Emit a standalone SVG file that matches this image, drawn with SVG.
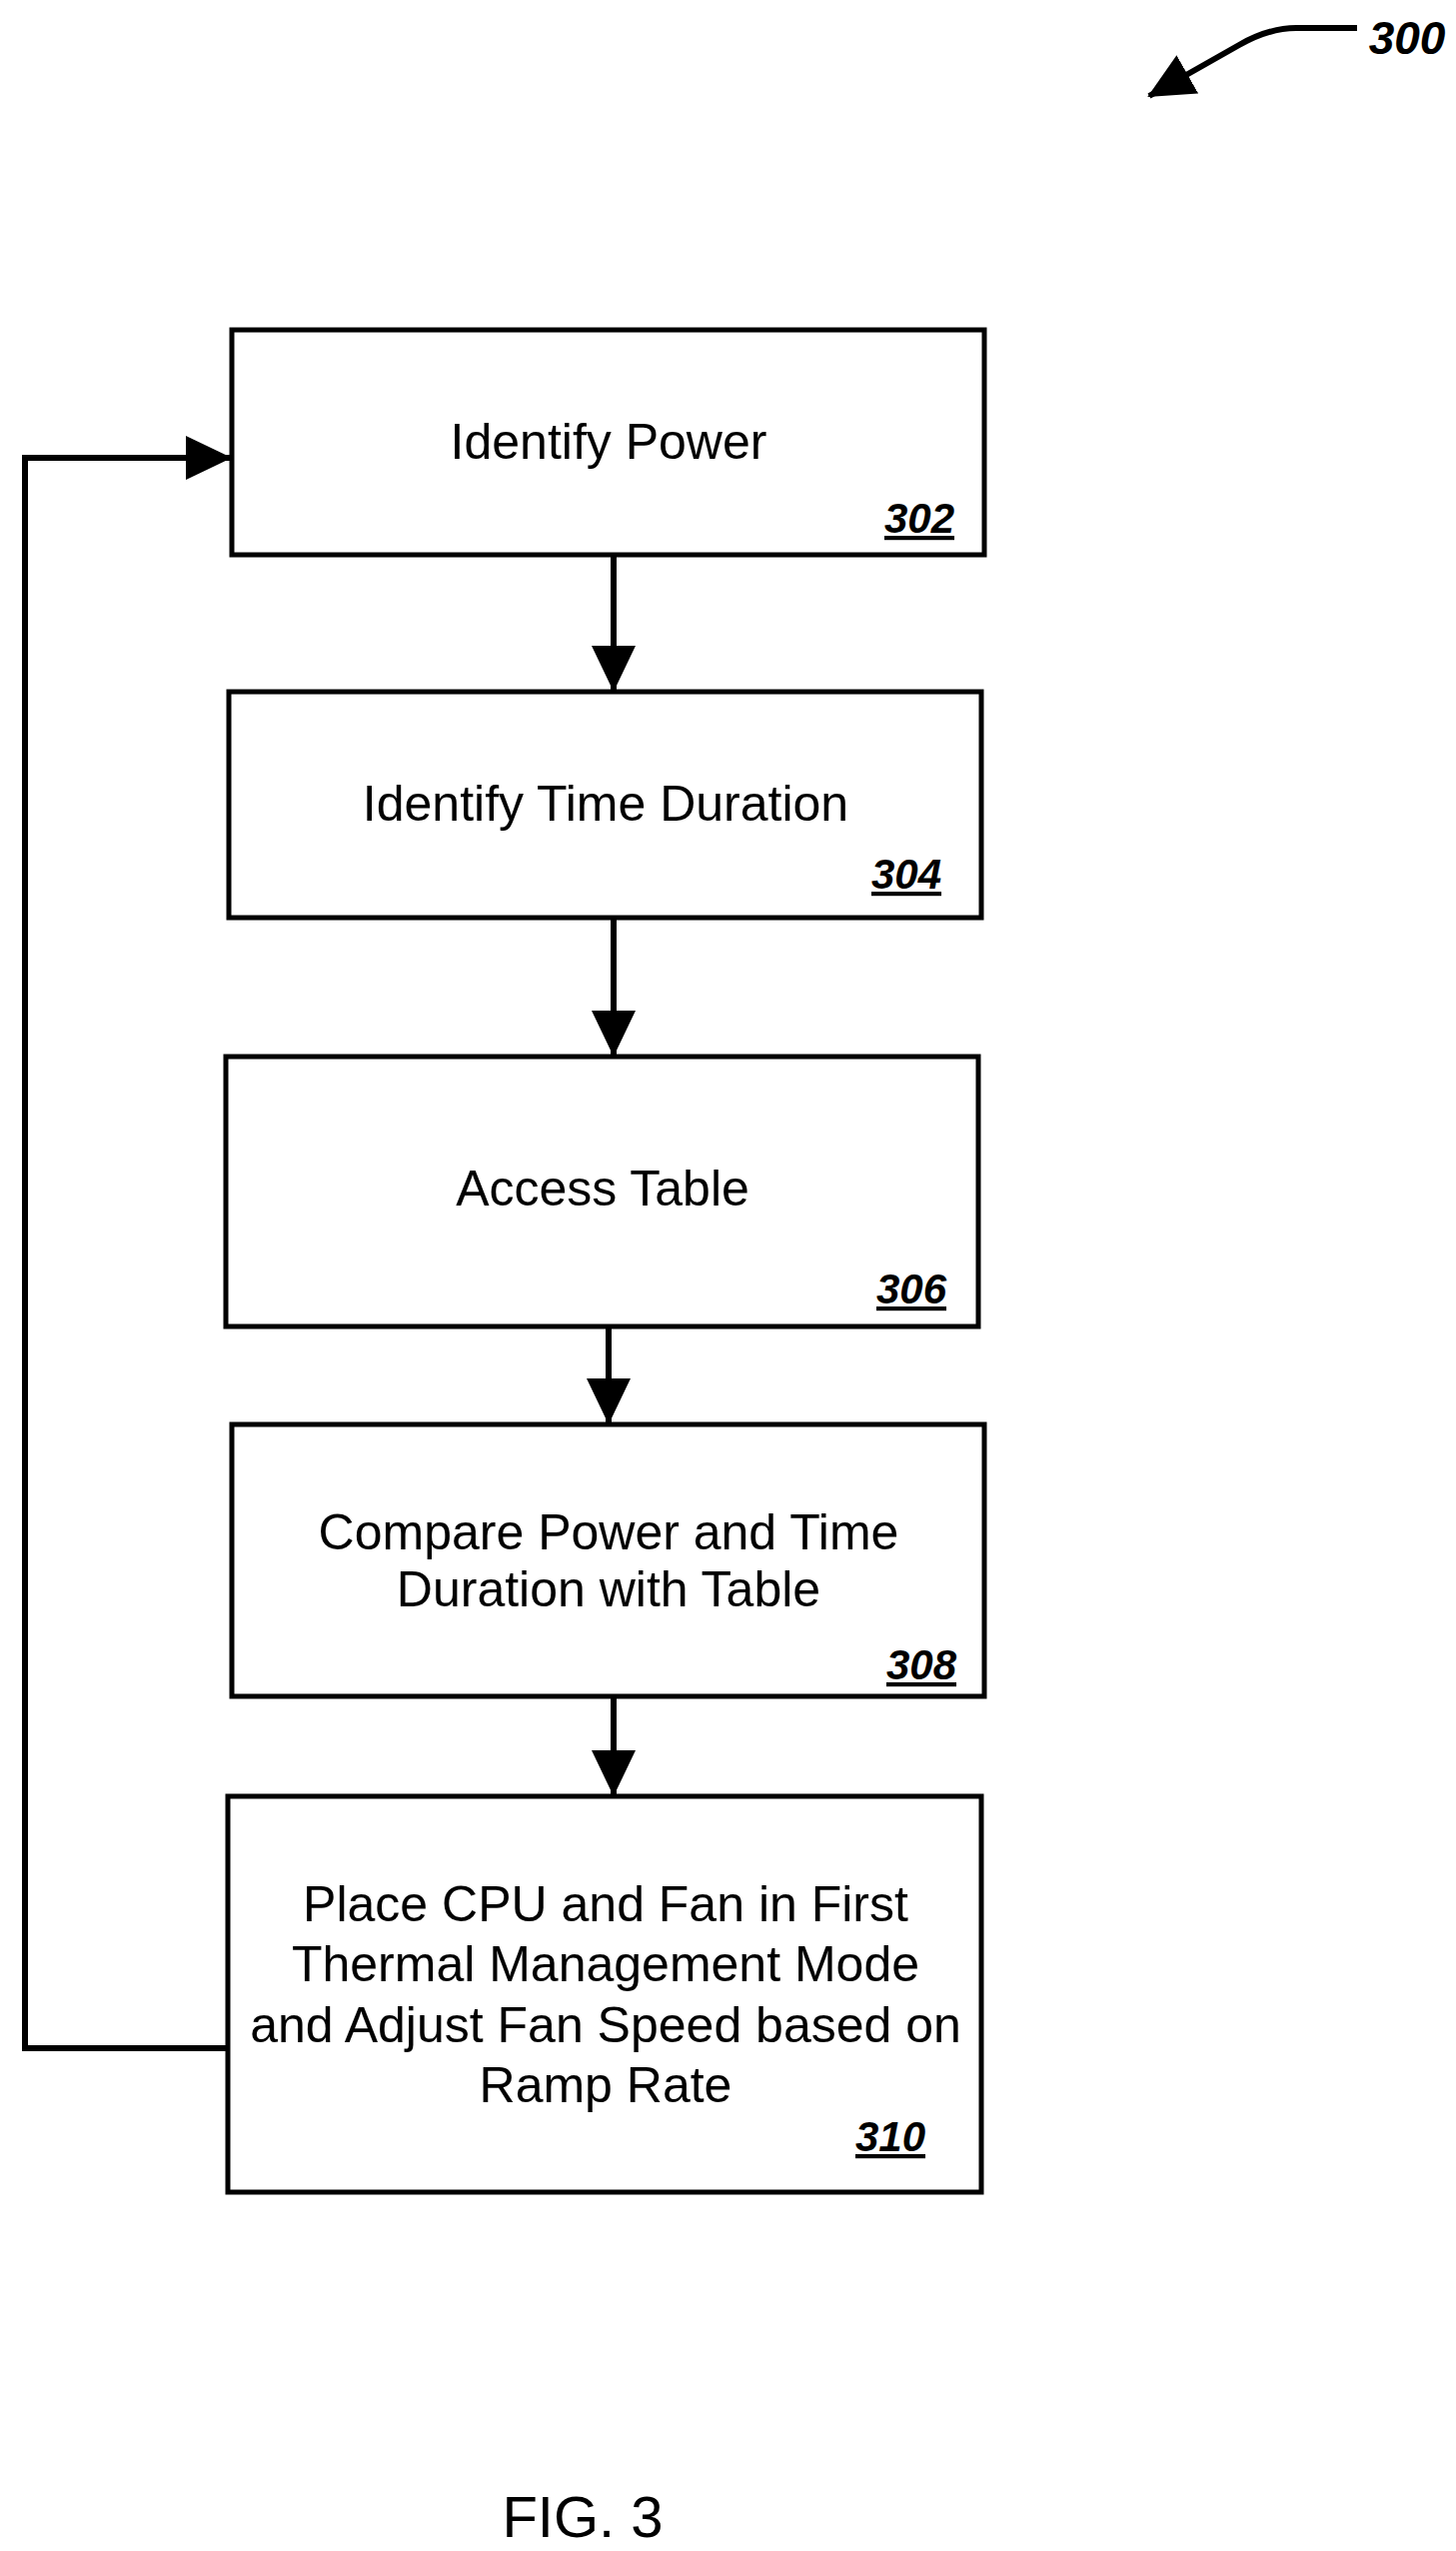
<svg xmlns="http://www.w3.org/2000/svg" width="1457" height="2552" viewBox="0 0 1457 2552">
<style>
.box{fill:#fff;stroke:#000;stroke-width:5}
.t{font-family:"Liberation Sans",Arial,sans-serif;font-size:50px;text-anchor:middle;fill:#000}
.n{font-family:"Liberation Sans",Arial,sans-serif;font-size:42px;font-weight:bold;font-style:italic;text-decoration:underline;text-anchor:middle;fill:#000}
.c{fill:none;stroke:#000;stroke-width:6}
</style>
<defs>
<marker id="a" markerUnits="userSpaceOnUse" markerWidth="50" markerHeight="50" refX="44" refY="22" orient="auto"><path d="M0,0 L46,22 L0,44 Z" fill="#000"/></marker>
</defs>
<rect width="1457" height="2552" fill="#fff"/>
<g id="connectors">
<path class="c" d="M614,555 L614,690" marker-end="url(#a)"/>
<path class="c" d="M614,918 L614,1055" marker-end="url(#a)"/>
<path class="c" d="M609,1327 L609,1423" marker-end="url(#a)"/>
<path class="c" d="M614,1697 L614,1795" marker-end="url(#a)"/>
<path class="c" d="M228,2049 L25,2049 L25,458 L230,458" marker-end="url(#a)"/>
<path class="c" d="M1358,28 L1297,28 Q1270,28 1240,45 L1150,96" marker-end="url(#a)"/>
</g>
<g id="n302"><rect class="box" x="232" y="330" width="753" height="225"/><text class="t" x="609" y="459">Identify Power</text><text class="n" x="920" y="533">302</text></g>
<g id="n304"><rect class="box" x="229" y="692" width="753" height="226"/><text class="t" x="606" y="821">Identify Time Duration</text><text class="n" x="907" y="889">304</text></g>
<g id="n306"><rect class="box" x="226" y="1057" width="753" height="270"/><text class="t" x="603" y="1206">Access Table</text><text class="n" x="912" y="1304">306</text></g>
<g id="n308"><rect class="box" x="232" y="1425" width="753" height="272"/><text class="t" x="609" y="1550">Compare Power and Time</text><text class="t" x="609" y="1607">Duration with Table</text><text class="n" x="922" y="1680">308</text></g>
<g id="n310"><rect class="box" x="228" y="1797" width="754" height="396"/><text class="t" x="606" y="1922">Place CPU and Fan in First</text><text class="t" x="606" y="1982">Thermal Management Mode</text><text class="t" x="606" y="2043">and Adjust Fan Speed based on</text><text class="t" x="606" y="2103">Ramp Rate</text><text class="n" x="891" y="2152">310</text></g>
<text class="n" x="1408" y="54" style="text-decoration:none;font-size:46px">300</text>
<text class="t" x="583" y="2538" style="font-size:58px">FIG. 3</text>
</svg>
